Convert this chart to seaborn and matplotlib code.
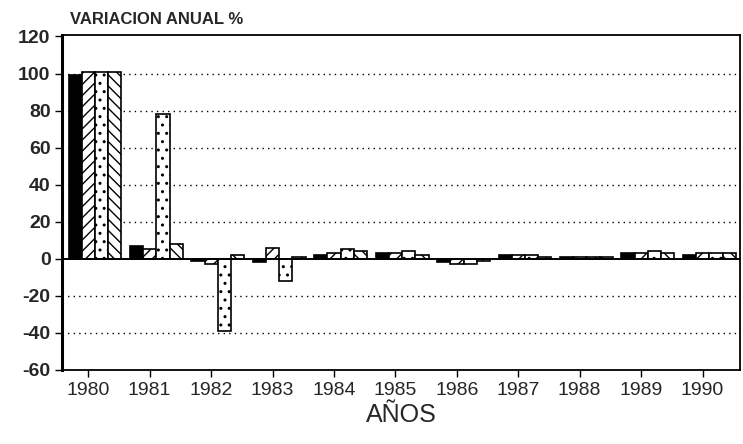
import pandas as pd
import seaborn as sns
import matplotlib.pyplot as plt
import numpy as np

anios = ['1980', '1981', '1982', '1983', '1984', '1985',
         '1986', '1987', '1988', '1989', '1990']
series = ['A', 'B', 'C', 'D']
serie_a = [99, 7, -1, -2, 2, 3, -2, 2, 1, 3, 2]
serie_b = [101, 5, -3, 6, 3, 3, -3, 2, 1, 3, 3]
serie_c = [101, 78, -39, -12, 5, 4, -3, 2, 1, 4, 3]
serie_d = [101, 8, 2, 1, 4, 2, -1, 1, 1, 3, 3]
yticks = [-60, -40, -20, 0, 20, 40, 60, 80, 100, 120]

df = pd.DataFrame({'anio': anios * 4,
                   'serie': [s for s in series for _ in anios],
                   'valor': serie_a + serie_b + serie_c + serie_d})

sns.set_theme(style='white')
plt.rcParams['font.family'] = ['Liberation Sans', 'DejaVu Sans']
plt.rcParams['hatch.linewidth'] = 1.0

fig = plt.figure(figsize=(7.43, 4.44), dpi=100)
ax = fig.add_axes([0.084, 0.167, 0.912, 0.755])

# grilla punteada detras de las barras
for y in [100, 80, 60, 40, 20, -20, -40]:
    ax.axhline(y, color='black', lw=1.0, ls=(0, (1, 3)), zorder=0)

sns.barplot(data=df, x='anio', y='valor', hue='serie', order=anios,
            hue_order=series, palette=['white'] * 4, width=0.86,
            edgecolor='black', linewidth=1.2, legend=False, ax=ax, zorder=2)

estilos = [('black', '....'), ('white', '///'), ('white', '..'), ('white', '\\\\\\')]
for cont, (fc, ht) in zip(ax.containers, estilos):
    for p in cont.patches:
        p.set_facecolor(fc)
        p.set_hatch(ht)

ax.axhline(0, color='black', lw=1.4, zorder=3)

ax.set_ylim(-60, 121)
ax.set_xlim(-0.53, 10.5)
ax.set_yticks(yticks)
ax.set_yticklabels([str(v) for v in yticks], fontsize=14, fontweight='bold')
ax.set_xticks(np.arange(len(anios)) - 0.11)
ax.set_xticklabels(anios, fontsize=14)
ax.tick_params(axis='both', direction='out', length=5, width=1, color='black',
               bottom=True, left=True)

for lado in ['left', 'right', 'top', 'bottom']:
    ax.spines[lado].set_color('black')
    ax.spines[lado].set_linewidth(1.3)
ax.spines['left'].set_linewidth(2.2)

ax.set_xlabel('AÑOS', fontsize=18, labelpad=3)
ax.set_ylabel('')
fig.text(0.094, 0.940, 'VARIACION ANUAL %', fontsize=12, fontweight='bold',
         ha='left', va='bottom')

plt.savefig('out.png', dpi=100)
